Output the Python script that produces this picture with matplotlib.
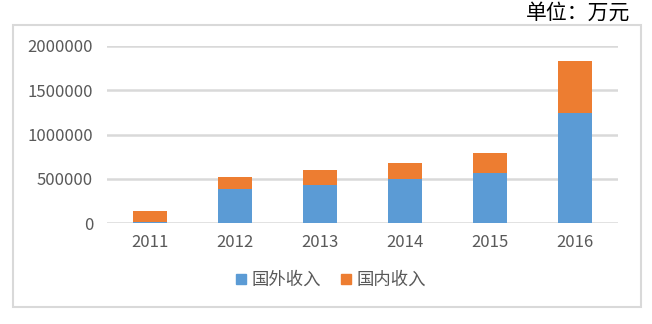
import matplotlib
matplotlib.use("Agg")
import matplotlib.pyplot as plt
from matplotlib.patches import Rectangle, Patch

plt.rcParams['font.family'] = ['Noto Sans CJK SC', 'DejaVu Sans']

years = ["2011", "2012", "2013", "2014", "2015", "2016"]
foreign = [15000, 384000, 428000, 498000, 563000, 1243000]
domestic = [117000, 139000, 172000, 182000, 228000, 587000]
series_names = ["国外收入", "国内收入"]
yticks = [0, 500000, 1000000, 1500000, 2000000]
unit_label = "单位：万元"

W, H = 652, 324
fig = plt.figure(figsize=(W / 100, H / 100), dpi=100)

# outer border
fig.patches.append(Rectangle((12.5 / W, (H - 306.5) / H), 628 / W, 282 / H,
                             transform=fig.transFigure, fill=False,
                             edgecolor="#d9d9d9", linewidth=1.5))

ax = fig.add_axes([107 / W, (H - 223) / H, 511 / W, 177 / H])
x = range(len(years))
c_blue = "#5b9bd5"
c_orange = "#ed7d31"
ax.bar(x, foreign, width=0.4, color=c_blue, zorder=3)
ax.bar(x, domestic, width=0.4, bottom=foreign, color=c_orange, zorder=3)

ax.set_xlim(-0.5, len(years) - 0.5)
ax.set_ylim(0, 2000000)
ax.set_yticks(yticks)
ax.set_yticklabels([str(v) for v in yticks])
ax.set_xticks(list(x))
ax.set_xticklabels(years)
ax.yaxis.grid(True, color="#d9d9d9", linewidth=1.8, zorder=0)
ax.set_axisbelow(True)
for s in ax.spines.values():
    s.set_visible(False)
ax.tick_params(axis="both", length=0, labelsize=12, labelcolor="#595959")
ax.tick_params(axis="y", pad=10)
ax.tick_params(axis="x", pad=8)

fig.text(630 / W, (H - 13) / H, unit_label, ha="right", va="center",
         fontsize=15, color="#000000")

handles = [Patch(color=c_blue), Patch(color=c_orange)]
fig.legend(handles, series_names, loc="center", bbox_to_anchor=(331 / W, (H - 280) / H),
           ncol=2, frameon=False, fontsize=12.5, handlelength=0.55, handleheight=0.55,
           handletextpad=0.3, columnspacing=1.2, labelcolor="#595959")

fig.savefig("out.png", dpi=100)
